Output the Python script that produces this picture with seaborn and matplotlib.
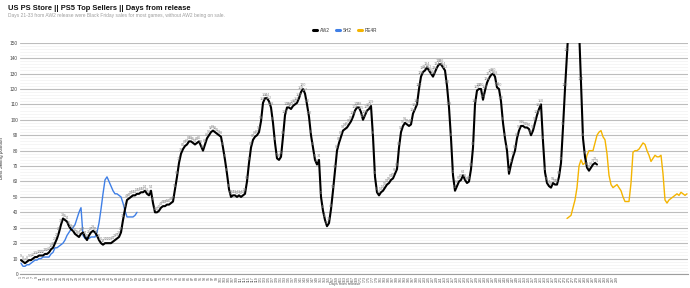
import numpy as np
import pandas as pd
import matplotlib
matplotlib.use("Agg")
import matplotlib.pyplot as plt
from matplotlib.lines import Line2D
import seaborn as sns

# ---------------- data ----------------
title = "US PS Store || PS5 Top Sellers || Days from release"
subtitle = "Days 21-33 from AW2 release were Black Friday sales for most games, without AW2 being on sale."
series_names = ["AW2", "SH2", "RE4R"]
y_label = "Best Selling position"
x_label = "Days from release"

aw2_start = 1
aw2 = [9, 8, 7, 8, 9, 9, 10, 11, 11, 12, 12, 12, 13, 13, 14, 16, 17, 20, 23, 27,
       32, 36, 35, 34, 31, 29, 28, 26, 25, 24, 26, 27, 24, 22, 25, 27, 28, 27, 25, 22,
       20, 19, 20, 20, 20, 20, 21, 22, 23, 24, 27, 35, 42, 48, 49, 50, 51, 51, 52, 52,
       53, 53, 54, 52, 51, 54, 46, 40, 40, 41, 43, 44, 44, 45, 45, 46, 47, 55, 63, 72,
       78, 81, 83, 84, 86, 86, 85, 84, 85, 86, 83, 80, 84, 88, 90, 92, 93, 92, 91, 90,
       89, 82, 74, 65, 55, 50, 51, 51, 50, 51, 50, 51, 52, 60, 72, 82, 87, 89, 90, 92,
       99, 111, 114, 114, 112, 108, 98, 85, 75, 74, 76, 89, 103, 108, 108, 107, 109, 110, 111, 114,
       118, 120, 117, 110, 102, 90, 82, 74, 71, 74, 50, 41, 35, 31, 33, 42, 54, 67, 80, 85,
       89, 93, 94, 95, 97, 99, 102, 106, 108, 108, 105, 100, 103, 106, 107, 109, 89, 63, 53, 51,
       53, 54, 56, 58, 59, 61, 62, 65, 68, 82, 92, 96, 98, 97, 96, 97, 104, 107, 110, 120,
       128, 131, 132, 134, 132, 130, 128, 131, 134, 136, 136, 134, 132, 122, 108, 88, 64, 54, 57, 60,
       61, 64, 61, 59, 60, 68, 82, 110, 119, 120, 120, 113, 119, 124, 127, 129, 130, 128, 121, 120,
       112, 98, 88, 80, 65, 71, 76, 80, 88, 93, 96, 96, 95, 95, 94, 90, 93, 98, 103, 107,
       110, 86, 66, 59, 57, 56, 59, 58, 58, 63, 72, 95, 120, 143, 165, 172, 175, 175, 170, 160,
       124, 88, 76, 69, 67, 69, 71, 72, 71]

sh2_start = 1
sh2 = [7, 5, 5, 6, 6, 7, 8, 9, 9, 10, 10, 11, 11, 11, 11, 13, 14, 17, 17, 18,
       19, 20, 22, 25, 27, 29, 30, 32, 36, 40, 43, 25, 23, 24, 23, 24, 24, 24, 27, 33,
       42, 52, 61, 63, 60, 57, 54, 52, 52, 51, 50, 46, 41, 37, 37, 37, 37, 38, 40]

re4r_start = 274
re4r = [36, 37, 38, 43, 48, 56, 70, 74, 71, 72, 77, 80, 80, 80, 85, 90, 92, 93, 89, 87,
        78, 64, 58, 56, 57, 58, 56, 54, 50, 47, 47, 47, 59, 79, 80, 80, 81, 83, 85, 84,
        80, 77, 73, 75, 77, 76, 76, 77, 65, 48, 46, 48, 49, 50, 51, 52, 51, 53, 52, 51, 52]

n_days = 334
tick_days = list(range(1, 300, 2))
y_ticks = list(range(0, 151, 10))

colors = {"AW2": "#000000", "SH2": "#3f7fe6", "RE4R": "#f4b400"}
widths = {"AW2": 1.5, "SH2": 1.0, "RE4R": 1.0}

# ---------------- frame ----------------
frames = []
for name, start, vals in [("AW2", aw2_start, aw2), ("SH2", sh2_start, sh2), ("RE4R", re4r_start, re4r)]:
    frames.append(pd.DataFrame({"day": np.arange(start, start + len(vals)),
                                "pos": vals, "series": name}))
df = pd.concat(frames, ignore_index=True)

sns.set_style("white")
plt.rcParams["font.family"] = ["Liberation Sans", "DejaVu Sans"]

W, H = 690, 288
fig = plt.figure(figsize=(W / 100, H / 100), dpi=100)
ax_l, ax_r, ax_t, ax_b = 20, 688, 42.7, 274
ax = fig.add_axes([ax_l / W, (H - ax_b) / H, (ax_r - ax_l) / W, (ax_b - ax_t) / H])

for name in series_names:
    sub = df[df["series"] == name]
    sns.lineplot(data=sub, x="day", y="pos", color=colors[name], lw=widths[name],
                 ax=ax, legend=False, zorder=3 if name == "AW2" else 2)

# data labels on AW2
sub = df[df["series"] == "AW2"]
for d, v in zip(sub["day"], sub["pos"]):
    if v <= 150:
        ax.annotate(str(v), (d, v), xytext=(0, 1.2), textcoords="offset points",
                    ha="center", va="bottom", fontsize=2.7, color="#8a8a8a",
                    zorder=4, annotation_clip=True)

ax.set_xlim(0.5, n_days + 0.5)
ax.set_ylim(0, 150)
ax.set_yticks(y_ticks)
ax.set_yticklabels([str(t) for t in y_ticks], fontsize=3.4, color="#444444")
ax.set_yticks(np.arange(0, 150, 2), minor=True)
ax.set_xticks(tick_days)
ax.set_xticklabels([str(t) for t in tick_days], rotation=90, fontsize=2.6, color="#555555")
ax.tick_params(axis="both", which="both", length=0, pad=1.5)
ax.grid(axis="y", which="major", color="#bdbdbd", lw=0.8, zorder=0)
ax.grid(axis="y", which="minor", color="#f1f1f1", lw=0.5, zorder=0)
ax.grid(axis="x", visible=False)
for s in ["top", "right", "left"]:
    ax.spines[s].set_visible(False)
ax.spines["bottom"].set_color("#9e9e9e")
ax.spines["bottom"].set_linewidth(0.8)
ax.set_xlabel("")
ax.set_ylabel(y_label, fontsize=3.3, color="#333333", labelpad=4)

fig.text(8 / W, 1 - 8.5 / H, title, fontsize=5.4, weight="bold", va="center", ha="left", color="#111111")
fig.text(8 / W, 1 - 15.5 / H, subtitle, fontsize=3.5, va="center", ha="left", color="#9e9e9e")
fig.text(345 / W, 2.2 / H, x_label, fontsize=2.8, va="bottom", ha="center", color="#555555")

handles = [Line2D([0], [0], color=colors[n], lw=2.2) for n in series_names]
fig.legend(handles, series_names, loc="center", bbox_to_anchor=(345 / W, 1 - 30 / H),
           ncol=3, frameon=False, fontsize=3.3, handlelength=0.9, handletextpad=0.5,
           columnspacing=1.4, labelcolor="#333333")

fig.savefig("out.png", dpi=100)
